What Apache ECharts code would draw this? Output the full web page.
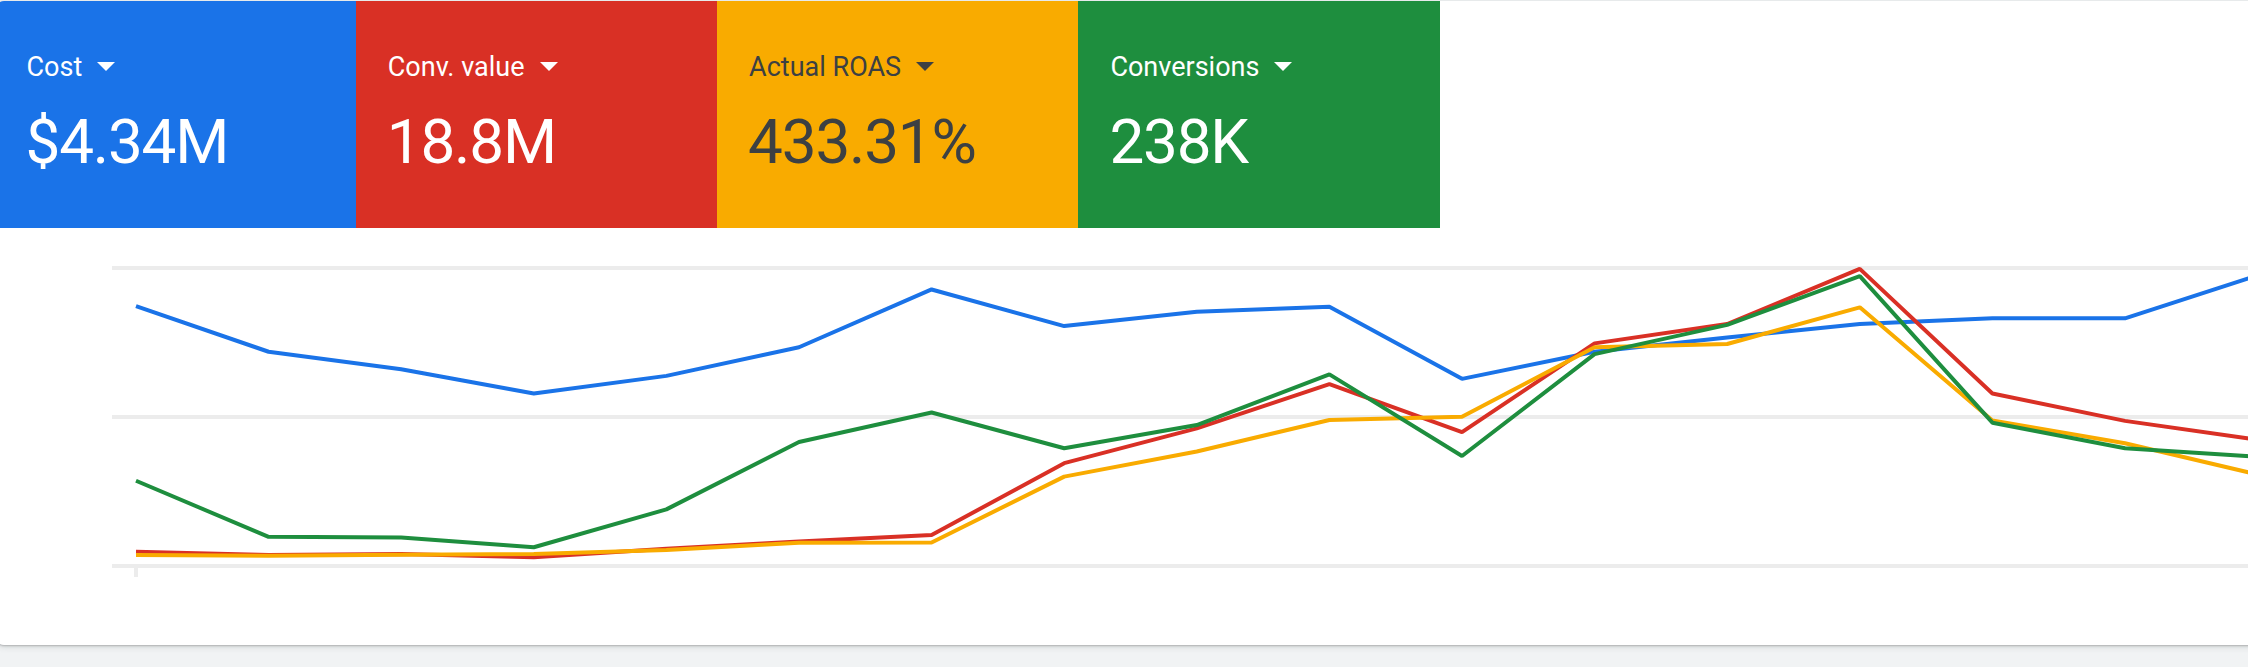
<!DOCTYPE html>
<html>
<head>
<meta charset="utf-8">
<script src="https://cdn.jsdelivr.net/npm/echarts@6/dist/echarts.min.js"></script>
<style>
  html, body {
    margin: 0;
    padding: 0;
    width: 2248px;
    height: 667px;
    overflow: hidden;
    background: #f1f3f4;
    font-family: Roboto, "Noto Sans", sans-serif;
  }
  .card {
    position: absolute;
    left: -4px;
    top: 1px;
    width: 2320px;
    height: 644px;
    background: #fff;
    border-radius: 8px;
    overflow: hidden;
    box-shadow: 0 1px 2px rgba(60, 64, 67, 0.3), 0 2px 6px rgba(60, 64, 67, 0.15);
  }
  .tiles {
    position: absolute;
    left: -1.5px;
    top: 0;
    display: flex;
  }
  .tile {
    position: relative;
    width: 361.3px;
    height: 227px;
    color: #fff;
  }
  .tile.dark {
    color: #3c4043;
  }
  .label {
    position: absolute;
    left: 32px;
    top: 53px;
    font-size: 27px;
    line-height: 27px;
    white-space: nowrap;
  }
  .arrow {
    display: inline-block;
    width: 0;
    height: 0;
    margin-left: 15px;
    border-left: 9px solid transparent;
    border-right: 9px solid transparent;
    border-top: 9px solid currentColor;
    vertical-align: middle;
    position: relative;
    top: -2px;
  }
  .value {
    position: absolute;
    left: 31px;
    top: 110px;
    font-size: 62px;
    line-height: 62px;
    letter-spacing: -1.2px;
    white-space: nowrap;
  }
  #chart {
    position: absolute;
    left: 0;
    top: 0;
    width: 2320px;
    height: 667px;
  }
</style>
</head>
<body>
<div class="card">
  <div class="tiles" id="tiles"></div>
</div>
<div id="chart"></div>
<script>
// scorecards
const metrics = ['Cost', 'Conv. value', 'Actual ROAS', 'Conversions']
const totals = ['$4.34M', '18.8M', '433.31%', '238K']
const colors = ['#1a73e8', '#d93025', '#f9ab00', '#1e8e3e']

// weekly points, scaled to the chart height (0 = bottom line, 100 = top line)
const cost = [87.2, 71.9, 66.0, 57.9, 63.8, 73.4, 92.8, 80.5, 85.3, 87.0, 62.8, 71.9, 76.7, 81.2, 83.1, 83.1, 97.5]
const convValue = [4.8, 3.7, 4.0, 2.9, 5.8, 8.2, 10.4, 34.5, 46.2, 61.0, 44.9, 74.7, 81.2, 99.7, 57.9, 48.7, 42.4]
const roas = [3.7, 3.4, 3.8, 4.0, 5.4, 7.8, 7.9, 30.0, 38.4, 49.0, 50.1, 73.4, 74.5, 86.8, 48.8, 41.2, 30.7]
const conversions = [28.6, 9.8, 9.6, 6.3, 19.0, 41.6, 51.5, 39.5, 47.3, 64.3, 36.9, 71.1, 80.9, 97.3, 48.1, 39.5, 36.7]

const tiles = document.getElementById('tiles')
metrics.forEach((name, i) => {
  const tile = document.createElement('div')
  tile.className = 'tile' + (i === 2 ? ' dark' : '')
  tile.style.background = colors[i]
  tile.innerHTML = '<div class="label">' + name + '<span class="arrow"></span></div>' +
    '<div class="value">' + totals[i] + '</div>'
  tiles.appendChild(tile)
})

const seriesData = [cost, convValue, roas, conversions]
const chart = echarts.init(document.getElementById('chart'))
chart.setOption({
  animation: false,
  grid: {
    left: 112,
    top: 268,
    width: 2145.6,
    height: 298
  },
  xAxis: {
    type: 'value',
    min: -0.181,
    max: 16,
    axisLine: { show: false },
    axisLabel: { show: false },
    splitLine: { show: false },
    axisTick: {
      show: true,
      customValues: [0],
      length: 11,
      lineStyle: { color: '#ececec', width: 4 }
    }
  },
  yAxis: {
    type: 'value',
    min: 0,
    max: 100,
    interval: 50,
    axisLine: { show: false },
    axisTick: { show: false },
    axisLabel: { show: false },
    splitLine: {
      lineStyle: { color: '#ececec', width: 4 }
    }
  },
  series: seriesData.map((arr, i) => ({
    name: metrics[i],
    type: 'line',
    symbol: 'none',
    data: arr.map((v, j) => [j, v]),
    color: colors[i],
    lineStyle: { width: 4, color: colors[i] }
  }))
})
</script>
</body>
</html>
